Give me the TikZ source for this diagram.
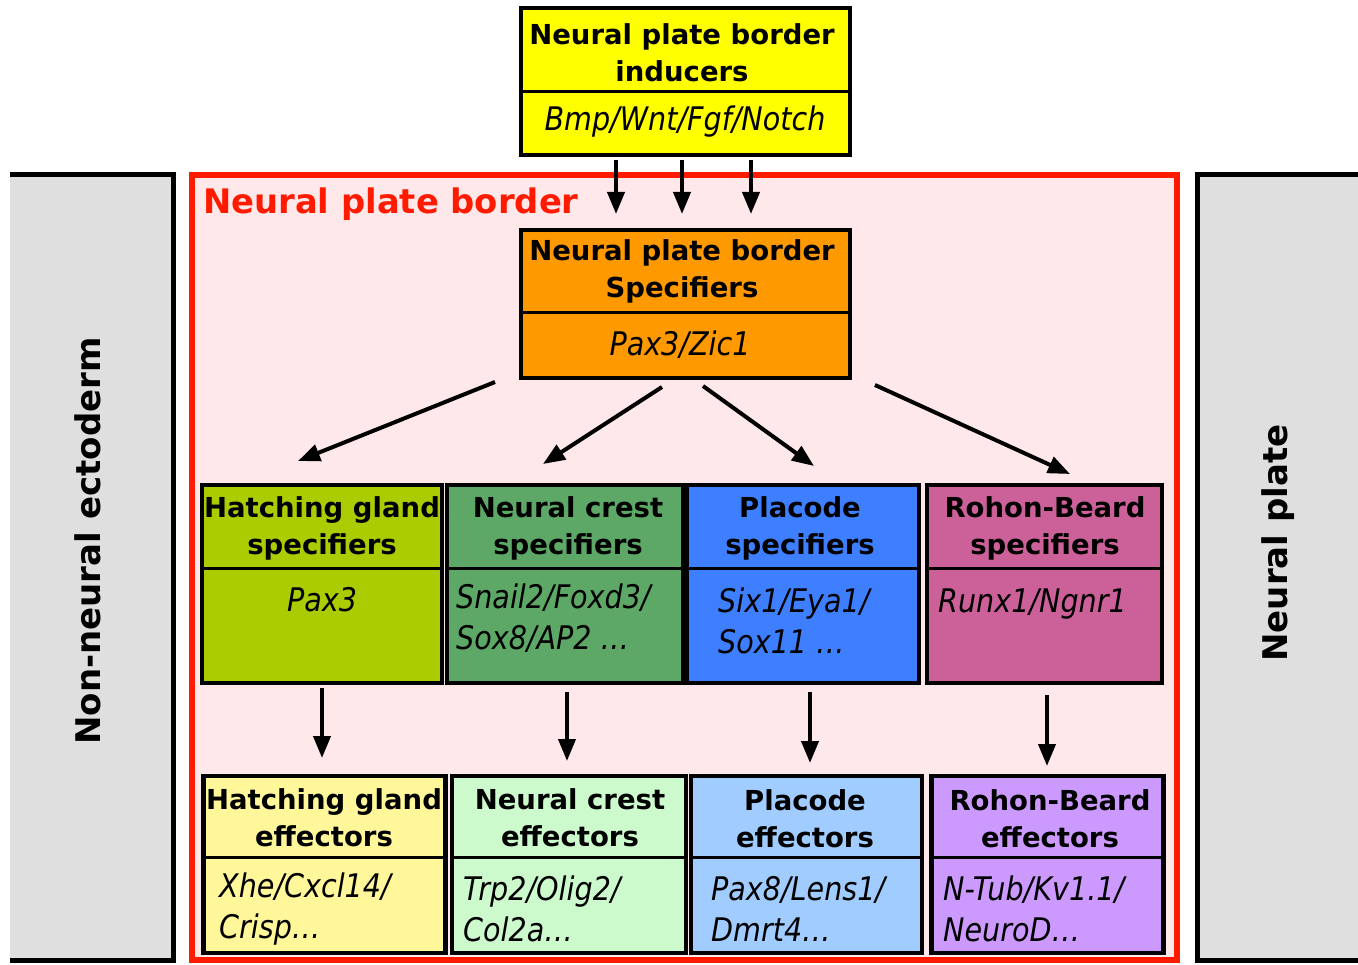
\documentclass[tikz,border=0pt]{standalone}
\usepackage{fontspec}
\setmainfont{DejaVu Sans}
\newfontfamily\genefont{DejaVu Sans}[FakeStretch=0.88]
\usetikzlibrary{arrows.meta}
\definecolor{cyellow}{HTML}{FFFF00}
\definecolor{corange}{HTML}{FF9900}
\definecolor{cygreen}{HTML}{AACC00}
\definecolor{cgreen}{HTML}{5DA866}
\definecolor{cblue}{HTML}{3D7FFF}
\definecolor{cpink}{HTML}{CC6099}
\definecolor{clyellow}{HTML}{FFF799}
\definecolor{clgreen}{HTML}{CCFACC}
\definecolor{clblue}{HTML}{A0CCFF}
\definecolor{cpurple}{HTML}{CC99FF}
\definecolor{cbg}{HTML}{FFE8EA}
\definecolor{cgrey}{HTML}{DFDFDF}
\definecolor{cred}{HTML}{FF1A00}
\tikzset{
  box/.style={draw=black, line width=4.5, rectangle, inner sep=0, outer sep=0},
  div/.style={draw=black, line width=3},
  ttl/.style={font=\bfseries\fontsize{27.5}{37}\selectfont, align=center, inner sep=0},
  gene/.style={font=\genefont\itshape\fontsize{32.5}{41}\selectfont, align=left, inner sep=0},
  sidetxt/.style={font=\bfseries\fontsize{34}{40}\selectfont, rotate=90, inner sep=0},
  arr/.style={line width=4, -{Triangle[length=22,width=17]}},
}
\begin{document}
\begin{tikzpicture}[x=1pt,y=-1pt]
\useasboundingbox (0,0) rectangle (1358,965);
% side panels
\fill[cgrey] (10,175) rectangle (173,960);
\draw[line width=5] (10,175) -- (173,175) -- (173,960) -- (10,960);
\fill[cgrey] (1197,175) rectangle (1358,960);
\draw[line width=5] (1358,175) -- (1197,175) -- (1197,960) -- (1358,960);
\node[sidetxt] (nne) at (88,541) {Non-neural ectoderm};
\node[sidetxt] (np) at (1278,543) {Neural plate};
% neural plate border region
\draw[cred, fill=cbg, line width=6] (192,175) rectangle (1177,960);
\node[anchor=west, text=cred, font=\bfseries\fontsize{33.8}{40}\selectfont, inner sep=0] (npb) at (203,204) {Neural plate border};
% inducers
\node[box, fill=cyellow, minimum width=329, minimum height=147] (ind) at (685.5,81.5) {};
\draw[div] (ind.west |- 0,92) -- (ind.east |- 0,92);
\node[ttl] (indt) at (682,53) {Neural plate border\\inducers};
\node[gene] (indg) at (685,122) {Bmp/Wnt/Fgf/Notch};
% specifiers of border
\node[box, fill=corange, minimum width=329, minimum height=148] (spe) at (685.5,304) {};
\draw[div] (spe.west |- 0,313) -- (spe.east |- 0,313);
\node[ttl] (spet) at (682,271) {Neural plate border\\Specifiers};
\node[gene] (speg) at (680,345) {Pax3/Zic1};
% arrows from inducers
\coordinate (i1) at (616,160); \coordinate (o1) at (616,214);
\coordinate (i2) at (682,160); \coordinate (o2) at (682,214);
\coordinate (i3) at (751,160); \coordinate (o3) at (751,214);
\draw[arr] (i1) -- (o1);
\draw[arr] (i2) -- (o2);
\draw[arr] (i3) -- (o3);
% specifier row
\node[box, fill=cygreen, minimum width=240, minimum height=198] (hgs) at (322,584) {};
\node[box, fill=cgreen, minimum width=236, minimum height=198] (ncs) at (565,584) {};
\node[box, fill=cblue, minimum width=232, minimum height=198] (pls) at (803,584) {};
\node[box, fill=cpink, minimum width=235, minimum height=198] (rbs) at (1044.5,584) {};
\foreach \b in {hgs,ncs,pls,rbs}{\draw[div] (\b.west |- 0,568) -- (\b.east |- 0,568);}
\node[ttl] (hgst) at (322,528) {Hatching gland\\specifiers};
\node[ttl] (ncst) at (568,528) {Neural crest\\specifiers};
\node[ttl] (plst) at (800,528) {Placode\\specifiers};
\node[ttl] (rbst) at (1045,528) {Rohon-Beard\\specifiers};
\node[gene] (hgsg) at (322,600) {Pax3};
\node[gene, anchor=west] (ncsg) at (456,618) {Snail2/Foxd3/\\Sox8/AP2 \dots};
\node[gene, anchor=west] (plsg) at (718,621) {Six1/Eya1/\\Sox11 \dots};
\node[gene, anchor=west] (rbsg) at (938,604) {Runx1/Ngnr1};
% diagonal arrows
\coordinate (d1s) at (495,382); \coordinate (d1e) at (298,461);
\coordinate (d2s) at (662,387); \coordinate (d2e) at (543,464);
\coordinate (d3s) at (703,386); \coordinate (d3e) at (814,466);
\coordinate (d4s) at (875,385); \coordinate (d4e) at (1070,474);
\draw[arr] (d1s) -- (d1e);
\draw[arr] (d2s) -- (d2e);
\draw[arr] (d3s) -- (d3e);
\draw[arr] (d4s) -- (d4e);
% effector row
\node[box, fill=clyellow, minimum width=242, minimum height=177] (hge) at (324.5,864.5) {};
\node[box, fill=clgreen, minimum width=234, minimum height=177] (nce) at (569,864.5) {};
\node[box, fill=clblue, minimum width=231, minimum height=177] (ple) at (806.5,864.5) {};
\node[box, fill=cpurple, minimum width=232, minimum height=177] (rbe) at (1047.5,864.5) {};
\foreach \b in {hge,nce,ple,rbe}{\draw[div] (\b.west |- 0,857) -- (\b.east |- 0,857);}
\node[ttl] (hget) at (324,818) {Hatching gland\\effectors};
\node[ttl] (ncet) at (570,818) {Neural crest\\effectors};
\node[ttl] (plet) at (805,819) {Placode\\effectors};
\node[ttl] (rbet) at (1050,819) {Rohon-Beard\\effectors};
\node[gene, anchor=west] (hgeg) at (219,909) {Xhe/Cxcl14/\\Crisp\dots};
\node[gene, anchor=west] (nceg) at (463,909) {Trp2/Olig2/\\Col2a\dots};
\node[gene, anchor=west] (pleg) at (711,909) {Pax8/Lens1/\\Dmrt4\dots};
\node[gene, anchor=west] (rbeg) at (943,909) {N-Tub/Kv1.1/\\NeuroD\dots};
% vertical arrows
\coordinate (v1s) at (322,688); \coordinate (v1e) at (322,758);
\coordinate (v2s) at (567,692); \coordinate (v2e) at (567,761);
\coordinate (v3s) at (810,692); \coordinate (v3e) at (810,763);
\coordinate (v4s) at (1047,695); \coordinate (v4e) at (1047,766);
\draw[arr] (v1s) -- (v1e);
\draw[arr] (v2s) -- (v2e);
\draw[arr] (v3s) -- (v3e);
\draw[arr] (v4s) -- (v4e);
\end{tikzpicture}
\end{document}
